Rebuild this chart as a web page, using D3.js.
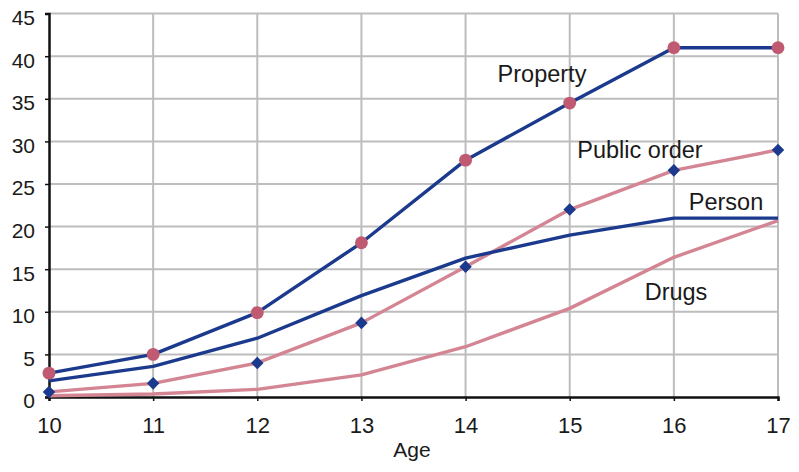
<!DOCTYPE html>
<html>
<head>
<meta charset="utf-8">
<script src="https://cdn.jsdelivr.net/npm/d3@7"></script>
<style>
  html, body { margin: 0; padding: 0; background: #fff; }
  svg { display: block; font-family: "Liberation Sans", Arial, sans-serif; }
</style>
</head>
<body>
<svg id="chart" width="799" height="472"></svg>
<script>
// Age categories on the x axis
const ages = [10, 11, 12, 13, 14, 15, 16, 17];
const yTicks = [0, 5, 10, 15, 20, 25, 30, 35, 40, 45];

// Cumulative percentages by offense type
const property    = [2.8, 5.0, 9.9, 18.1, 27.8, 34.5, 41.0, 41.0];
const publicOrder = [0.6, 1.6, 4.0, 8.7, 15.3, 22.0, 26.6, 29.0];
const person      = [1.9, 3.6, 6.9, 11.9, 16.3, 19.0, 21.0, 21.0];
const drugs       = [0.15, 0.35, 0.9, 2.6, 5.9, 10.4, 16.4, 20.7];

const seriesNames = ["Property", "Public order", "Person", "Drugs"];

const blue = "#1b3a8d";
const pink = "#d48593";
const rose = "#c05a72";

const series = [
  { name: seriesNames[0], values: property,    line: blue, marker: "circle",  markerColor: rose, label: [542, 82] },
  { name: seriesNames[1], values: publicOrder, line: pink, marker: "diamond", markerColor: blue, label: [640, 158] },
  { name: seriesNames[2], values: person,      line: blue, marker: null, label: [726, 210] },
  { name: seriesNames[3], values: drugs,       line: pink, marker: null, label: [676, 300] }
];

const svg = d3.select("#chart");
const margin = { left: 49, right: 21, top: 13.6, bottom: 75 };
const W = 799, H = 472;

const x = d3.scaleLinear().domain([10, 17]).range([margin.left, W - margin.right]);
const y = d3.scaleLinear().domain([0, 45]).range([H - margin.bottom, margin.top]);

// grid
const grid = svg.append("g").attr("stroke", "#bdbdbd").attr("stroke-width", 2);
grid.selectAll("line.h").data(yTicks.slice(1)).join("line")
  .attr("x1", x(10)).attr("x2", x(17))
  .attr("y1", d => y(d)).attr("y2", d => y(d));
grid.selectAll("line.v").data(ages.slice(1)).join("line")
  .attr("x1", d => x(d)).attr("x2", d => x(d))
  .attr("y1", y(0)).attr("y2", y(45));

// axes
const xAxis = d3.axisBottom(x).tickValues(ages).tickSize(4).tickPadding(10).tickFormat(d3.format("d"));
const gx = svg.append("g").attr("transform", `translate(0,${y(0)})`).call(xAxis);
gx.select(".domain").attr("stroke", "#111").attr("stroke-width", 2.5);
gx.selectAll(".tick line").attr("stroke", "#111").attr("stroke-width", 1.5);
gx.selectAll(".tick text").attr("font-size", 22).attr("fill", "#1a1a1a").attr("dy", "1em");

const yAxis = d3.axisLeft(y).tickValues(yTicks).tickSize(4).tickPadding(10);
const gy = svg.append("g").attr("transform", `translate(${x(10)},0)`).call(yAxis);
gy.select(".domain").attr("stroke", "#111").attr("stroke-width", 2.5);
gy.selectAll(".tick line").attr("stroke", "#111").attr("stroke-width", 1.5);
gy.selectAll(".tick text").attr("font-size", 21).attr("fill", "#1a1a1a").attr("dy", "0.52em");

svg.append("text").attr("x", 412).attr("y", 457)
  .attr("text-anchor", "middle").attr("font-size", 21).attr("fill", "#1a1a1a").text("Age");

// lines
const line = d3.line().x((d, i) => x(ages[i])).y(d => y(d));
// pink lines first, blue lines on top
const order = [3, 1, 2, 0];
order.forEach(k => {
  const s = series[k];
  svg.append("path").datum(s.values)
    .attr("fill", "none").attr("stroke", s.line).attr("stroke-width", 3.4)
    .attr("stroke-linejoin", "round")
    .attr("d", line);
});

// markers
series.forEach(s => {
  if (!s.marker) return;
  const sym = s.marker === "circle" ? d3.symbolCircle : d3.symbolDiamond2;
  const size = s.marker === "circle" ? 130 : 100;
  svg.append("g").selectAll("path").data(s.values).join("path")
    .attr("transform", (d, i) => `translate(${x(ages[i])},${y(d)})`)
    .attr("d", d3.symbol(sym, size))
    .attr("fill", s.markerColor);
});

// series labels
series.forEach(s => {
  svg.append("text").attr("x", s.label[0]).attr("y", s.label[1])
    .attr("text-anchor", "middle")
    .attr("font-size", 23.5).attr("fill", "#1a1a1a").text(s.name);
});
</script>
</body>
</html>
